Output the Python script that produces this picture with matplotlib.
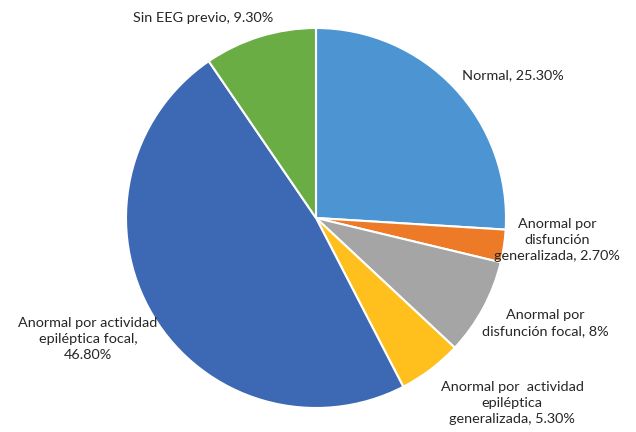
import matplotlib
matplotlib.use("Agg")
import matplotlib.pyplot as plt
import numpy as np

labels = [
    "Normal, 25.30%",
    "Anormal por\ndisfunción\ngeneralizada, 2.70%",
    "Anormal por\ndisfunción focal, 8%",
    "Anormal por  actividad\nepiléptica\ngeneralizada, 5.30%",
    "Anormal por actividad\nepiléptica focal,\n46.80%",
    "Sin EEG previo, 9.30%",
]
values = [25.3, 2.7, 8.0, 5.3, 46.8, 9.3]
colors = ["#4C94D2", "#EC7A27", "#A5A5A5", "#FFC01E", "#3D68B3", "#6BAD45"]

# label placement around the pie: (angle in degrees, distance in radii)
label_layout = [(36, 1.28), (-5.2, 1.274), (-24.6, 1.325), (-43.3, 1.42), (-152, 1.36), (119.5, 1.21)]

W, H, DPI = 636, 432, 100
cx, cy, R = 316, 214, 190  # pixel centre (from bottom) and radius

fig = plt.figure(figsize=(W / DPI, H / DPI), dpi=DPI)
ax = fig.add_axes([0, 0, 1, 1])

ax.pie(values, colors=colors, startangle=90, counterclock=False, radius=1.0,
       wedgeprops=dict(edgecolor="white", linewidth=1.5))

ax.set_xlim(-cx / R, (W - cx) / R)
ax.set_ylim(-cy / R, (H - cy) / R)
ax.set_aspect("equal")
ax.axis("off")

for text, (ang, dist) in zip(labels, label_layout):
    t = np.deg2rad(ang)
    ax.text(dist * np.cos(t), dist * np.sin(t), text, ha="center", va="center",
            fontsize=10.4, family=["Lato", "DejaVu Sans"], color="#262626",
            linespacing=1.4)

fig.savefig("out.png", dpi=DPI, facecolor="white")
